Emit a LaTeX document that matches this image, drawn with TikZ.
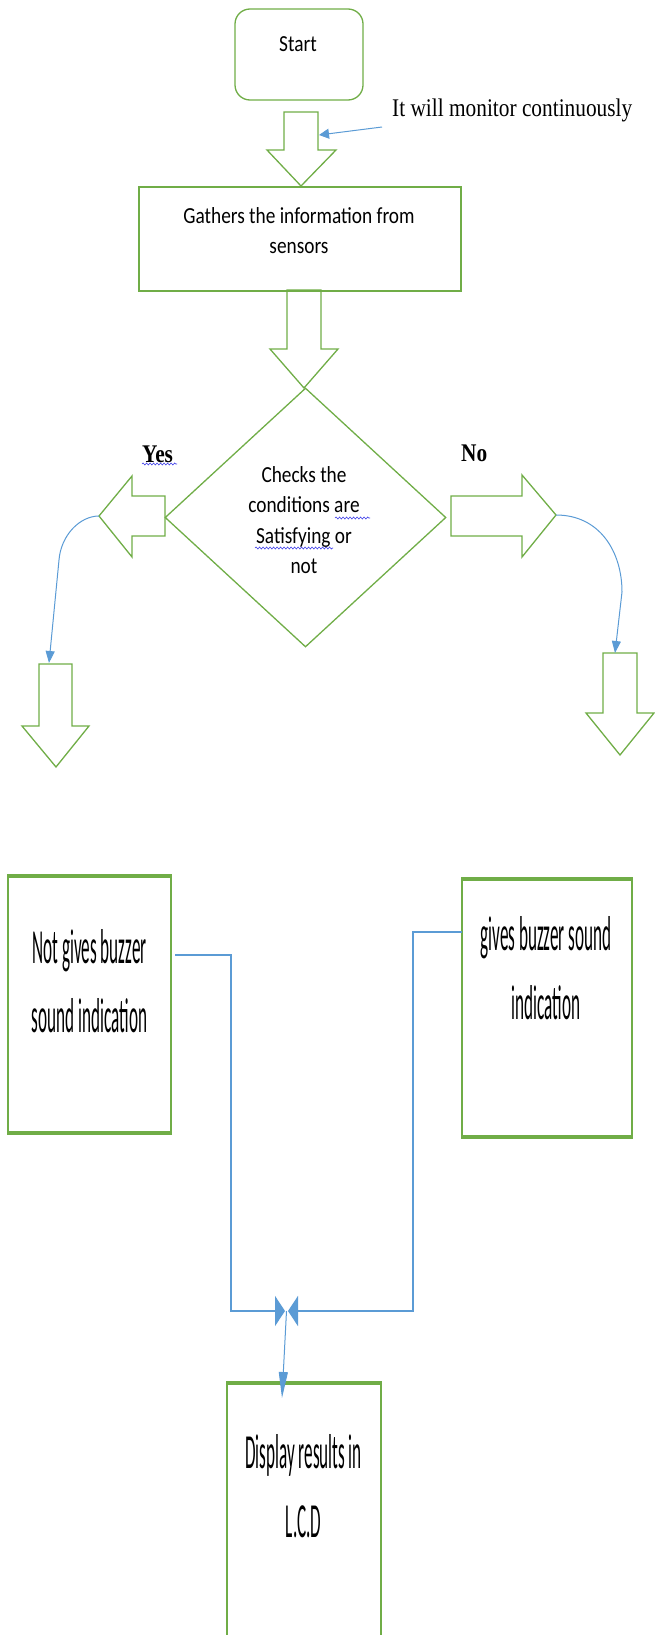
\documentclass[tikz,border=0pt]{standalone}
\usepackage{fontspec}
\usepackage{tikz}
\usetikzlibrary{shapes.geometric,arrows.meta,decorations.pathmorphing}
\newfontfamily\calib[FakeStretch=0.84]{Carlito}
\newfontfamily\tallcalib[FakeStretch=0.35]{Carlito}
\newfontfamily\romfont[FakeStretch=0.84]{Liberation Serif}
\definecolor{boxgreen}{HTML}{70AD47}
\definecolor{linkblue}{HTML}{5B9BD5}
\definecolor{spellblue}{HTML}{3A3AE8}

\begin{document}
\begin{tikzpicture}[x=1pt, y=-1pt,
  box/.style = {draw=boxgreen, line width=1.3pt, inner sep=0pt},
  blk/.style = {draw=boxgreen, line width=1.3pt},
  edge/.style = {draw=boxgreen, line width=4pt},
  small/.style = {font=\calib\fontsize{23}{30.5}\selectfont, inner sep=0pt, anchor=base},
  big/.style = {font=\tallcalib\fontsize{49}{69}\selectfont, inner sep=0pt, anchor=base, align=flush center, text width=170pt},
  note/.style = {font=\romfont\fontsize{25.4}{30}\selectfont, inner sep=0pt, anchor=base west},
  link/.style = {draw=linkblue, line width=1pt, -{Triangle[length=12pt,width=9pt]}},
  bus/.style = {draw=linkblue, line width=2pt, -{Triangle[length=10pt,width=30pt]}},
  wavy/.style = {draw=spellblue, line width=0.6pt, decorate, decoration={snake, amplitude=1pt, segment length=3.5pt}}]
\useasboundingbox (0,0) rectangle (654,1635);

% boxes
\node[box, rounded corners=15pt, minimum width=128pt, minimum height=91pt] (start) at (299,54.5) {};
\node[box, minimum width=322pt, minimum height=104pt] (gather) at (300,239) {};
\node[box, diamond, minimum width=281pt, minimum height=259pt] (check) at (305.5,517.5) {};
\node[box, minimum width=163pt, minimum height=255pt] (nobuzz) at (89.5,1004.5) {};
\node[box, minimum width=170pt, minimum height=256pt] (buzz) at (547,1008) {};
\node[box, minimum width=154pt, minimum height=320pt] (lcd) at (304,1544) {};
\draw[edge] (nobuzz.north west) -- (nobuzz.north east);
\draw[edge] (nobuzz.south west) -- (nobuzz.south east);
\draw[edge] (buzz.north west) -- (buzz.north east);
\draw[edge] (buzz.south west) -- (buzz.south east);
\draw[edge] (lcd.north west) -- (lcd.north east);

% texts
\node[small] (starttxt) at (298,52) {Start};
\node[small, align=flush center, text width=260pt] (gathertxt) at (299,223) {Gathers the information from\\sensors};
\node[small, align=flush center, text width=160pt] (checktxt) at (304,482) {Checks the\\conditions are\\Satisfying or\\not};
\node[note] (monitor) at (392,117) {It will monitor continuously};
\node[note] (yes) at (142,462) {\bfseries Yes};
\node[note] (no) at (461,461) {\bfseries No};
\node[big] (nobuzztxt) at (89.5,963) {Not gives buzzer\\sound indication};
\node[big] (buzztxt) at (546,950) {gives buzzer sound\\indication};
\node[big] (lcdtxt) at (303.5,1468) {Display results in\\L.C.D};
\draw[wavy] (142,464) -- (177,464);
\draw[wavy] (335,518) -- (370,518);
\draw[wavy] (255,548) -- (333,548);

% block arrows
\draw[blk] (284,112) -- (318,112) -- (318,150) -- (336,150) -- (301,186) -- (267,150) -- (284,150) -- cycle;
\draw[blk] (287,290) -- (321,290) -- (321,349) -- (338,349) -- (304,388) -- (270,349) -- (287,349) -- cycle;
\draw[blk] (165,496) -- (132,496) -- (132,476) -- (99,516) -- (132,557) -- (132,536) -- (165,536) -- cycle;
\draw[blk] (451,496) -- (522,496) -- (522,475) -- (556,515) -- (522,557) -- (522,536) -- (451,536) -- cycle;
\draw[blk] (39,664) -- (72,664) -- (72,726) -- (89,726) -- (56,767) -- (22,726) -- (39,726) -- cycle;
\draw[blk] (603,653) -- (637,653) -- (637,713) -- (654,713) -- (620,755) -- (586,713) -- (603,713) -- cycle;

\coordinate (monfrom) at (382,127);
\coordinate (arrowside) at (319,135);
\coordinate (yestip) at (99,516);
\coordinate (yesin) at (49,663);
\coordinate (notip) at (556,515);
\coordinate (noin) at (615,653);
\coordinate (lfrom) at (175,955);
\coordinate (rfrom) at (462,932);
\coordinate (ljoin) at (285,1311);
\coordinate (rjoin) at (288,1311);
\coordinate (junc) at (286.5,1311);
\coordinate (lcdin) at (282,1398);

% connectors
\draw[link, -{Triangle[length=10pt,width=10pt]}] (monfrom) -- (arrowside);
\draw[link] (yestip) .. controls (80,516) and (61,535) .. (59,560) -- (yesin);
\draw[link] (notip) .. controls (600,515) and (622,552) .. (622,592) -- (noin);
\draw[bus] (lfrom) -| (231,1311) -- (ljoin);
\draw[bus] (rfrom) -| (413,1311) -- (rjoin);
\draw[link, -{Triangle[length=26pt,width=9pt]}] (junc) -- (lcdin);
\end{tikzpicture}
\end{document}
